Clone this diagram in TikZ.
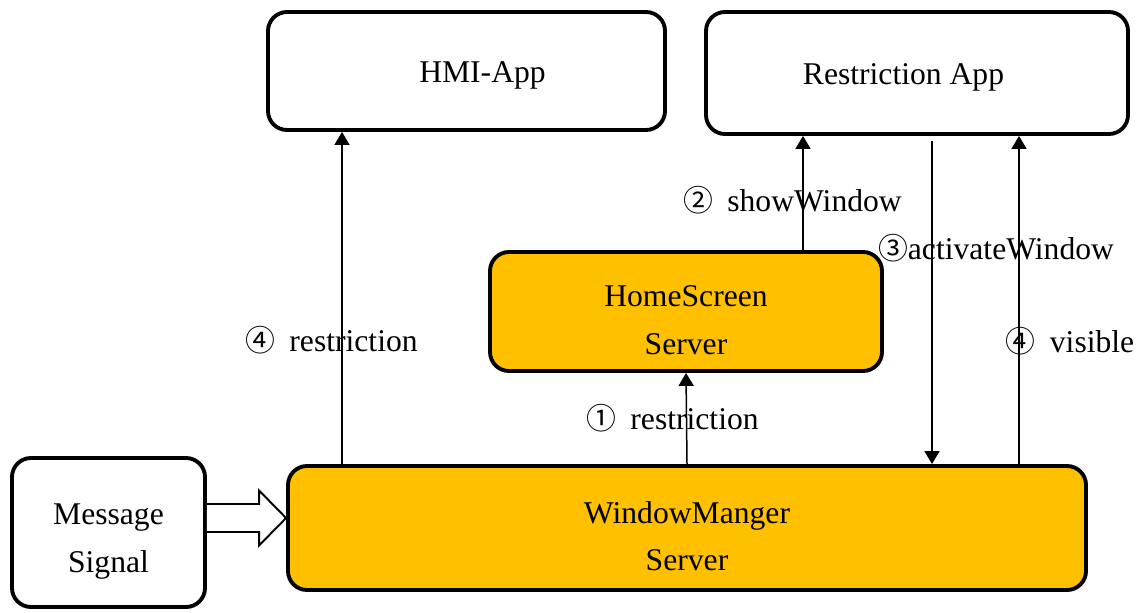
\documentclass[tikz,border=0pt]{standalone}
\usepackage{fontspec}
\setmainfont{Liberation Serif}
\newfontfamily\circfont{Noto Sans CJK JP}
\usepackage{xcolor}
\usetikzlibrary{arrows.meta, positioning, calc}
\definecolor{srvfill}{HTML}{FFC000}
\newcommand{\circnum}[1]{{\circfont\fontsize{17}{27}\selectfont #1}}

\begin{document}
\begin{tikzpicture}[
    box/.style={rectangle, draw=black, fill=#1, line width=2.2pt, rounded corners=0.38cm, align=center, font=\fontsize{18}{27}\selectfont, inner sep=0pt, text height=0.6cm},
    box/.default={white},
    twoline/.style={text height=1.72cm},
    arrow/.style={-{Triangle[length=0.26cm, width=0.3cm]}, line width=0.85pt, color=black},
    hollow/.style={draw=black, fill=white, line width=1.1pt, line join=miter},
    label/.style={font=\fontsize{18}{27}\selectfont, inner sep=0pt},
]
\useasboundingbox (0,0) rectangle (22.9,-12.24);

% ── Apps ──
\node[box, minimum width=7.94cm, minimum height=2.36cm] (hmi) at (9.33,-1.42) {\hspace*{0.64cm}HMI-App};
\node[box, minimum width=8.44cm, minimum height=2.44cm] (rapp) at (18.34,-1.46) {Restriction App\hspace*{0.54cm}};

% ── Servers ──
\node[box=srvfill, twoline, minimum width=7.84cm, minimum height=2.38cm] (hs) at (13.72,-6.23) {HomeScreen\\Server};
\node[box=srvfill, twoline, minimum width=15.96cm, minimum height=2.48cm] (wm) at (13.74,-10.56) {WindowManger\\Server};

% ── Input ──
\node[box, twoline, minimum width=3.86cm, minimum height=2.98cm] (msg) at (2.17,-10.65) {Message\\Signal};

% ── Lanes ──
\coordinate (lane_hmi) at (6.84,0);
\coordinate (lane_show) at (16.06,0);
\coordinate (lane_act) at (18.64,0);
\coordinate (lane_vis) at (20.38,0);

% ── Arrows ──
\draw[arrow] (wm.north) -- (hs.south);
\draw[arrow] (lane_hmi |- wm.north) -- (lane_hmi |- hmi.south);
\draw[arrow] (lane_show |- hs.north) -- (lane_show |- rapp.south);
\draw[arrow, shorten <=0.1cm] (lane_act |- rapp.south) -- (lane_act |- wm.north);
\draw[arrow] (lane_vis |- wm.north) -- (lane_vis |- rapp.south);

% ── Hollow input arrow ──
\coordinate (sig) at ($(msg.east)+(0,0.29)$);
\coordinate (sig_tip) at (sig -| wm.west);
\draw[hollow] ($(sig)+(0,0.28)$) -- ($(sig_tip)+(-0.54,0.28)$) -- ($(sig_tip)+(-0.54,0.55)$) -- (sig_tip)
    -- ($(sig_tip)+(-0.54,-0.55)$) -- ($(sig_tip)+(-0.54,-0.28)$) -- ($(sig)+(0,-0.28)$);

% ── Labels ──
\node[label] (lbl_rest4) at (6.63,-6.8) {\circnum{④}\hspace{0.45em}restriction};
\node[label] (lbl_rest1) at (13.45,-8.36) {\circnum{①}\hspace{0.45em}restriction};
\node[label] (lbl_show) at (15.85,-4.0) {\circnum{②}\hspace{0.45em}showWindow};
\node[label] (lbl_act) at (19.92,-4.96) {\circnum{③}activateWindow};
\node[label] (lbl_vis) at (21.4,-6.82) {\circnum{④}\hspace{0.45em}visible};

\end{tikzpicture}
\end{document}
